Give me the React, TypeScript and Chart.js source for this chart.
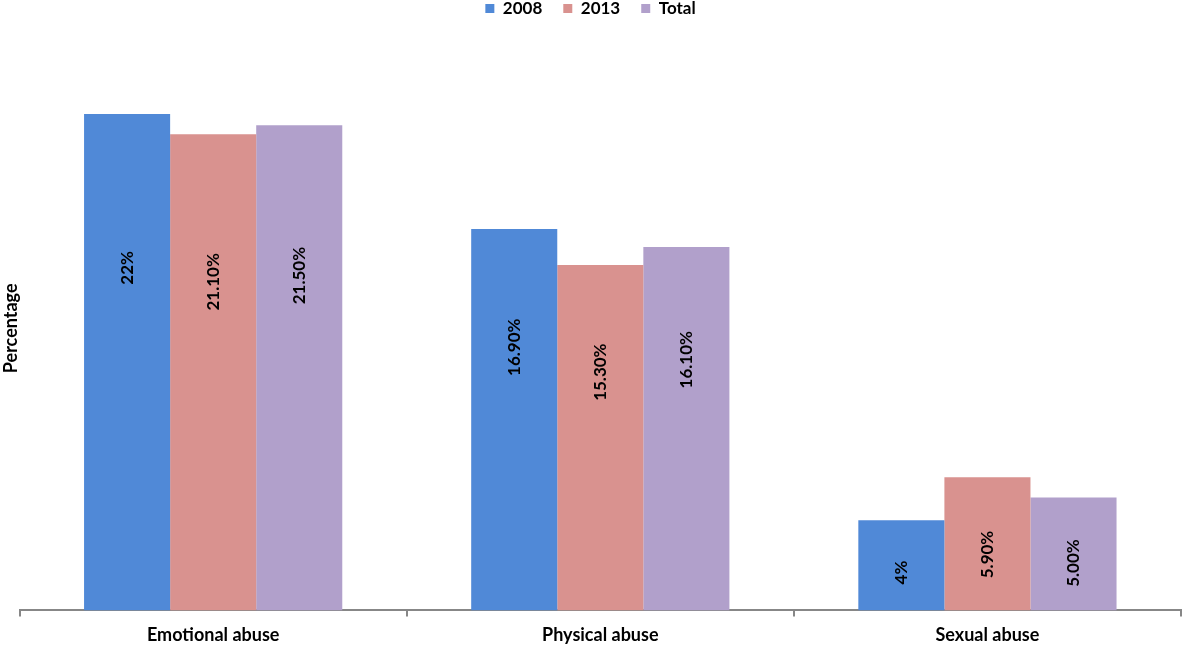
import React, { useEffect, useRef } from "react";
import { Chart, registerables } from "chart.js";

Chart.register(...registerables);

const categories = ["Emotional abuse", "Physical abuse", "Sexual abuse"];
const seriesNames = ["2008", "2013", "Total"];
const values2008 = [22, 16.9, 4];
const values2013 = [21.1, 15.3, 5.9];
const valuesTotal = [21.5, 16.1, 5.0];
const labels2008 = ["22%", "16.90%", "4%"];
const labels2013 = ["21.10%", "15.30%", "5.90%"];
const labelsTotal = ["21.50%", "16.10%", "5.00%"];
const yMin = 0;
const yMax = 25;

const colors = ["#5089D7", "#D9928F", "#B1A0CB"];
const FONT = "Lato, 'Noto Sans', sans-serif";

const valueLabelPlugin = {
  id: "valueLabels",
  afterDatasetsDraw(chart: any) {
    const ctx = chart.ctx;
    chart.data.datasets.forEach((ds: any, di: number) => {
      const meta = chart.getDatasetMeta(di);
      meta.data.forEach((bar: any, i: number) => {
        const v = ds.data[i];
        const text = ds.valueLabels[i];
        const frac = v > 10 ? 0.69 : 0.42;
        const cy = bar.base - (bar.base - bar.y) * frac;
        ctx.save();
        ctx.translate(bar.x, cy);
        ctx.rotate(-Math.PI / 2);
        ctx.font = `bold 17px ${FONT}`;
        ctx.fillStyle = "#000000";
        ctx.textAlign = "center";
        ctx.textBaseline = "middle";
        ctx.fillText(text, 0, 0);
        ctx.restore();
      });
    });
  },
};

export default function App() {
  const ref = useRef<HTMLCanvasElement | null>(null);
  useEffect(() => {
    if (!ref.current) return;
    const chart = new Chart(ref.current, {
      type: "bar",
      data: {
        labels: categories,
        datasets: [
          { label: seriesNames[0], data: values2008, valueLabels: labels2008, backgroundColor: colors[0] } as any,
          { label: seriesNames[1], data: values2013, valueLabels: labels2013, backgroundColor: colors[1] } as any,
          { label: seriesNames[2], data: valuesTotal, valueLabels: labelsTotal, backgroundColor: colors[2] } as any,
        ],
      },
      options: {
        animation: false,
        responsive: true,
        maintainAspectRatio: false,
        layout: { padding: { top: -21, right: 2, left: 0, bottom: -9 } },
        datasets: { bar: { categoryPercentage: 0.667, barPercentage: 1 } },
        plugins: {
          tooltip: { enabled: false },
          legend: {
            position: "top",
            labels: {
              boxWidth: 9,
              boxHeight: 9,
              padding: 21,
              color: "#000000",
              font: { family: FONT, size: 17, weight: "bold" },
            },
          },
          title: {
            display: true,
            text: " ",
            weight: 500,
            font: { size: 1 },
            padding: { top: 0, bottom: 18 },
          } as any,
        },
        scales: {
          x: {
            grid: {
              display: true,
              drawOnChartArea: false,
              drawTicks: true,
              tickLength: 6,
              offset: true,
              color: "#878787",
              lineWidth: 2,
            },
            border: { display: true, color: "#878787", width: 2 },
            ticks: {
              color: "#000000",
              padding: 8,
              font: { family: FONT, size: 18, weight: "bold" },
            },
          },
          y: {
            min: yMin,
            max: yMax,
            grid: { display: false },
            border: { display: false },
            ticks: { display: false },
            title: {
              display: true,
              text: "Percentage",
              color: "#000000",
              padding: { top: 0, bottom: -10 },
              font: { family: FONT, size: 18, weight: "bold" },
            },
          },
        },
      },
      plugins: [valueLabelPlugin],
    });
    return () => chart.destroy();
  }, []);
  return (
    <div style={{ position: "absolute", left: 0, top: 0, width: 1183, height: 645 }}>
      <canvas ref={ref} />
    </div>
  );
}
